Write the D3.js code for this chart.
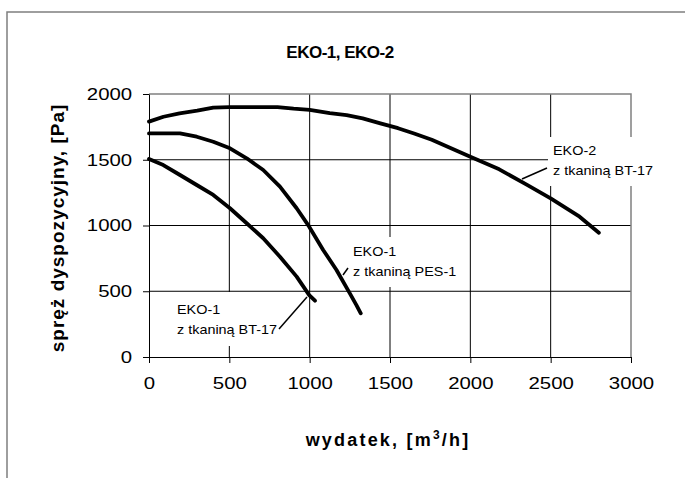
<!DOCTYPE html>
<html lang="pl">
<head>
<meta charset="UTF-8">
<title>EKO-1, EKO-2</title>
<script src="https://d3js.org/d3.v7.min.js"></script>
<style>
    body { margin: 0; background: #fff; }
    svg { display: block; font-family: Arial, "Liberation Sans", sans-serif; }
    .grid line { stroke: #000; stroke-width: 1; }
    .axis path, .axis line { stroke: #000; stroke-width: 1; }
    .axis text { font-size: 17px; fill: #000; }
    .curve { fill: none; stroke: #000; stroke-width: 3.8; stroke-linejoin: round; stroke-linecap: round; }
    .note { font-size: 12px; fill: #000; }
</style>
</head>
<body>
<svg id="chart" width="685" height="478"></svg>
<script>
    // curves: wydatek [m3/h] vs spręż [Pa]
    const eko2X = [0, 90, 190, 300, 400, 500, 800, 900, 1000, 1125, 1230, 1330, 1440, 1550, 1650, 1760, 2000, 2180, 2345, 2500, 2680, 2800];
    const eko2Y = [1790, 1827, 1853, 1873, 1897, 1900, 1900, 1888, 1880, 1855, 1840, 1815, 1777, 1740, 1700, 1652, 1523, 1427, 1315, 1207, 1067, 945];

    const pesX = [0, 193, 297, 400, 504, 608, 711, 815, 919, 997, 1084, 1167, 1250, 1291, 1318];
    const pesY = [1700, 1700, 1675, 1637, 1587, 1511, 1422, 1295, 1131, 991, 814, 662, 484, 395, 332];

    const btX = [0, 89, 193, 297, 400, 504, 608, 711, 815, 919, 997, 1033];
    const btY = [1505, 1460, 1384, 1308, 1232, 1131, 1017, 903, 763, 611, 471, 428];

    const xTicks = [0, 500, 1000, 1500, 2000, 2500, 3000];
    const yTicks = [0, 500, 1000, 1500, 2000];

    const svg = d3.select("#chart");
    const x = d3.scaleLinear().domain([0, 3000]).range([149, 631]);
    const y = d3.scaleLinear().domain([0, 2000]).range([357, 94]);

    // outer frame (only left and top are in view)
    svg.append("path")
        .attr("d", "M7,480 L7,12 L690,12")
        .attr("fill", "none").attr("stroke", "#7f7f7f").attr("stroke-width", 1.5);

    // grid
    const grid = svg.append("g").attr("class", "grid");
    grid.selectAll(".v").data(xTicks.slice(1, -1)).enter().append("line")
        .attr("x1", d => x(d)).attr("x2", d => x(d)).attr("y1", y(0)).attr("y2", y(2000));
    grid.selectAll(".h").data(yTicks.slice(1, -1)).enter().append("line")
        .attr("x1", x(0)).attr("x2", x(3000)).attr("y1", d => y(d)).attr("y2", d => y(d));
    svg.append("path")
        .attr("d", `M${x(0)},${y(2000)} L${x(3000)},${y(2000)} L${x(3000)},${y(0)}`)
        .attr("fill", "none").attr("stroke", "#808080").attr("stroke-width", 1.5);

    // axes
    const fmt = d3.format("d");
    const xAxis = svg.append("g").attr("class", "axis")
        .attr("transform", `translate(0,${y(0)})`)
        .call(d3.axisBottom(x).tickValues(xTicks).tickFormat(fmt).tickSize(6).tickPadding(14).tickSizeOuter(0));
    xAxis.selectAll("text").attr("transform", "scale(1.2,1)");

    const yAxis = svg.append("g").attr("class", "axis")
        .attr("transform", `translate(${x(0)},0)`)
        .call(d3.axisLeft(y).tickValues(yTicks).tickFormat(fmt).tickSize(6).tickPadding(8).tickSizeOuter(0));
    yAxis.selectAll("text").attr("transform", "scale(1.2,1)");

    // label boxes hide the grid behind the notes
    const notes = [
        { lines: ["EKO-2", "z tkaniną BT-17"], tx: 553, ty: 155, box: [548, 137, 100, 49], lead: [[522, 179], [547, 168]] },
        { lines: ["EKO-1", "z tkaniną PES-1"], tx: 353, ty: 256, box: [348, 237, 100, 50], lead: [[343, 275], [348, 268]] },
        { lines: ["EKO-1", "z tkaniną BT-17"], tx: 177, ty: 314, box: [172, 292, 106, 54], lead: [[279, 329], [307, 297]] }
    ];
    notes.forEach(n => {
        svg.append("rect").attr("x", n.box[0]).attr("y", n.box[1])
            .attr("width", n.box[2]).attr("height", n.box[3]).attr("fill", "#fff");
    });

    const line = d3.line().x(d => x(d[0])).y(d => y(d[1]));
    [[eko2X, eko2Y], [pesX, pesY], [btX, btY]].forEach(([xs, ys]) => {
        svg.append("path").attr("class", "curve").attr("d", line(xs.map((v, i) => [v, ys[i]])));
    });

    notes.forEach(n => {
        const t = svg.append("text").attr("class", "note")
            .attr("transform", `translate(${n.tx},${n.ty}) scale(1.2,1)`);
        n.lines.forEach((s, i) => t.append("tspan").attr("x", 0).attr("y", i * 20).text(s));
        svg.append("line")
            .attr("x1", n.lead[0][0]).attr("y1", n.lead[0][1])
            .attr("x2", n.lead[1][0]).attr("y2", n.lead[1][1])
            .attr("stroke", "#000").attr("stroke-width", 1.5);
    });

    // titles
    svg.append("text").attr("x", 340).attr("y", 58).attr("text-anchor", "middle")
        .attr("font-size", 17).attr("font-weight", "bold").attr("letter-spacing", -0.5)
        .text("EKO-1, EKO-2");

    const xl = svg.append("text").attr("x", 388).attr("y", 446).attr("text-anchor", "middle")
        .attr("font-size", 18).attr("font-weight", "bold").attr("letter-spacing", 2.2);
    xl.append("tspan").text("wydatek, [m");
    xl.append("tspan").attr("font-size", 12).attr("dy", -7).text("3");
    xl.append("tspan").attr("dy", 7).text("/h]");

    svg.append("text").attr("transform", `translate(64,228) rotate(-90)`).attr("text-anchor", "middle")
        .attr("font-size", 19).attr("font-weight", "bold").attr("letter-spacing", 1)
        .text("spręż dyspozycyjny, [Pa]");
</script>
</body>
</html>
